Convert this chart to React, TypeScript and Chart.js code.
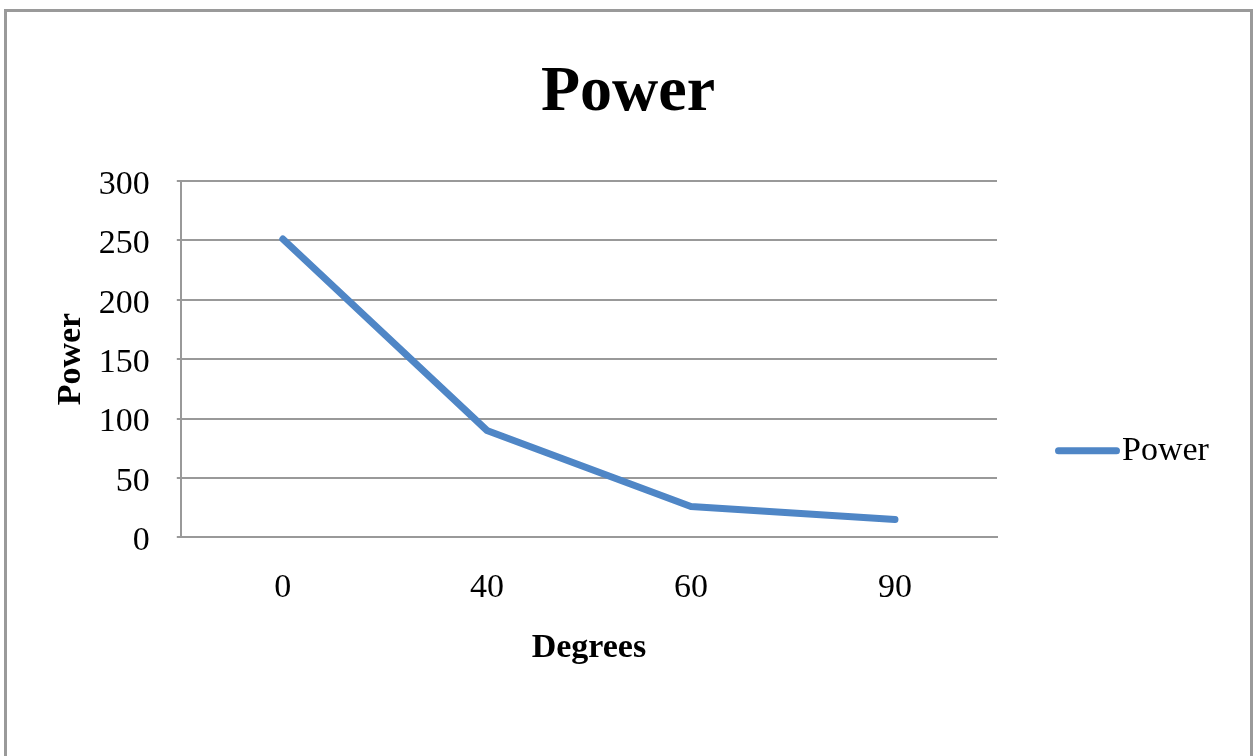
import React, { useEffect, useRef } from 'react';
import { Chart, registerables } from 'chart.js';

Chart.register(...registerables);

// ---- data ----
const categories: string[] = ['0', '40', '60', '90'];
const powerValues: number[] = [251, 90, 26, 15];
const seriesLabel = 'Power';
const chartTitle = 'Power';
const xAxisTitle = 'Degrees';
const yAxisTitle = 'Power';
const yMin = 0;
const yMax = 300;
const yStep = 50;

// ---- styles ----
const FONT = '"Liberation Serif", "Times New Roman", serif';
const LINE_COLOR = '#4F86C6';
const GRID_COLOR = '#999999';
const TEXT_COLOR = '#000000';

const sideLegend = {
  id: 'sideLegend',
  afterDraw(chart: any) {
    const { ctx, chartArea } = chart;
    const ds = chart.data.datasets[0];
    const y = chartArea.top + 270;
    const x0 = chartArea.right + 61.5;
    const x1 = chartArea.right + 119.5;
    ctx.save();
    ctx.strokeStyle = ds.borderColor;
    ctx.lineWidth = ds.borderWidth;
    ctx.lineCap = 'round';
    ctx.beginPath();
    ctx.moveTo(x0, y);
    ctx.lineTo(x1, y);
    ctx.stroke();
    ctx.font = `34px ${FONT}`;
    ctx.fillStyle = TEXT_COLOR;
    ctx.textBaseline = 'middle';
    ctx.textAlign = 'left';
    ctx.fillText(ds.label, chartArea.right + 125, y);
    ctx.restore();
  },
};

export default function App() {
  const canvasRef = useRef<HTMLCanvasElement | null>(null);

  useEffect(() => {
    const canvas = canvasRef.current;
    if (!canvas) return;
    const chart = new Chart(canvas, {
      type: 'line',
      data: {
        labels: categories,
        datasets: [
          {
            label: seriesLabel,
            data: powerValues,
            borderColor: LINE_COLOR,
            backgroundColor: LINE_COLOR,
            borderWidth: 7,
            borderCapStyle: 'round',
            borderJoinStyle: 'round',
            pointRadius: 0,
            pointHoverRadius: 0,
            tension: 0,
            fill: false,
            yAxisID: 'y',
          },
        ],
      },
      options: {
        responsive: false,
        animation: false,
        devicePixelRatio: 1,
        events: [],
        layout: { padding: { left: 3, right: 0, top: 0, bottom: 87 } },
        plugins: {
          legend: { display: false },
          tooltip: { enabled: false },
          title: {
            display: true,
            text: chartTitle,
            color: TEXT_COLOR,
            font: { family: FONT, size: 64, weight: 'bold', lineHeight: 1.2 },
            padding: { top: 55, bottom: 49 },
          },
        },
        scales: {
          x: {
            type: 'category',
            offset: true,
            grid: { display: false, drawTicks: false },
            border: { display: true, color: GRID_COLOR, width: 2 },
            ticks: {
              color: TEXT_COLOR,
              font: { family: FONT, size: 34, lineHeight: 1.2 },
              padding: 30,
              maxRotation: 0,
              autoSkip: false,
            },
            title: {
              display: true,
              text: xAxisTitle,
              color: TEXT_COLOR,
              font: { family: FONT, size: 34, weight: 'bold', lineHeight: 1.2 },
              padding: { top: -10, bottom: 0 },
            },
          },
          y: {
            position: 'left',
            min: yMin,
            max: yMax,
            grid: { color: GRID_COLOR, lineWidth: 2, drawTicks: true, tickLength: 4 },
            border: { display: true, color: GRID_COLOR, width: 2 },
            ticks: {
              stepSize: yStep,
              color: TEXT_COLOR,
              font: { family: FONT, size: 34, lineHeight: 1.2 },
              padding: 27,
              labelOffset: 4,
            },
            title: {
              display: true,
              text: yAxisTitle,
              color: TEXT_COLOR,
              font: { family: FONT, size: 34, weight: 'bold', lineHeight: 1.2 },
              padding: { top: 48, bottom: -20 },
            },
          },
          // empty right-hand box that reserves room for the side legend
          legendSpace: {
            type: 'linear',
            position: 'right',
            display: true,
            grid: { display: false, drawTicks: false },
            border: { display: false },
            ticks: { display: false },
            title: { display: false },
            afterFit: (scale: any) => {
              scale.width = 256;
            },
          },
        },
      },
      plugins: [sideLegend],
    } as any);
    return () => chart.destroy();
  }, []);

  return (
    <div
      style={{
        position: 'absolute',
        left: 0,
        top: 0,
        width: 1253,
        height: 756,
        overflow: 'hidden',
        background: '#ffffff',
      }}
    >
      <div
        style={{
          position: 'absolute',
          left: 4,
          top: 9,
          width: 1249,
          height: 800,
          boxSizing: 'border-box',
          border: '3px solid #9a9a9a',
        }}
      />
      <canvas
        ref={canvasRef}
        width={1253}
        height={756}
        style={{ position: 'absolute', left: 0, top: 0, width: 1253, height: 756 }}
      />
    </div>
  );
}
